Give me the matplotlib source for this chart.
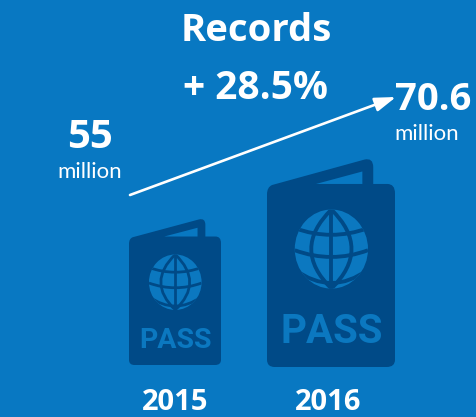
import matplotlib
matplotlib.use('Agg')
import matplotlib.pyplot as plt
from matplotlib.patches import PathPatch, Ellipse
from matplotlib.path import Path

years = ['2015', '2016']
values = [55, 70.6]
unit = 'million'
title = 'Records'
growth = '+ 28.5%'
stamp = 'PASS'

BG = '#0878c2'
DARK = '#004a87'
LIGHT = '#0b78c0'
FONT = ['Open Sans', 'DejaVu Sans']
THIN = ['Lato', 'DejaVu Sans']

fig = plt.figure(figsize=(4.77, 4.17), dpi=100, facecolor=BG)
ax = fig.add_axes([0, 0, 1, 1])
ax.set_xlim(0, 477)
ax.set_ylim(417, 0)
ax.axis('off')


def passport(x0, y0, w, h, fs):
    # icon outline, u/v are fractions of the box, v going down
    def p(u, v):
        return (x0 + u * w, y0 + v * h)

    M, L, C, Z = Path.MOVETO, Path.LINETO, Path.CURVE3, Path.CLOSEPOLY
    cover = [
        (p(0, .17), M), (p(0, .135), C), (p(.04, .125), C),
        (p(.76, .003), L), (p(.83, -.008), C), (p(.83, .04), C),
        (p(.83, .12), L), (p(.94, .12), L), (p(1, .12), C), (p(1, .165), C),
        (p(1, .965), L), (p(1, 1), C), (p(.935, 1), C),
        (p(.06, 1), L), (p(0, 1), C), (p(0, .965), C),
        (p(0, .17), Z),
    ]
    ax.add_patch(PathPatch(Path([c[0] for c in cover], [c[1] for c in cover]),
                           fc=DARK, ec='none', zorder=2))
    # slit above the cover
    slit = [p(.383, .12), p(.745, .06), p(.745, .12), p(.383, .12)]
    ax.add_patch(PathPatch(Path(slit, [M, L, L, Z]), fc=BG, ec='none', zorder=3))

    # globe
    cu, cv, ru, rv = .503, .433, .286, .19
    globe = Ellipse(p(cu, cv), 2 * ru * w, 2 * rv * h, fc=LIGHT, ec='none', zorder=3)
    ax.add_patch(globe)
    lw = w * 0.03 * 0.72
    lines = []
    lines.append(Path([p(cu, cv - rv), p(cu, cv + rv)]))
    for k in [-1.1, 1.1]:
        lines.append(Path([p(cu, cv - rv), p(cu + k * ru, cv), p(cu, cv + rv)], [M, C, C]))
    for dv, sag in [(-.53, .17), (.03, .17), (.52, .34)]:
        y = cv + dv * rv
        lines.append(Path([p(cu - ru, y), p(cu, y + sag * rv * 2), p(cu + ru, y)], [M, C, C]))
    for path in lines:
        pt = PathPatch(path, fc='none', ec=DARK, lw=lw, zorder=4)
        ax.add_patch(pt)
        pt.set_clip_path(globe)

    ax.text(x0 + .503 * w, y0 + .83 * h, stamp, color=LIGHT, fontsize=fs, fontweight='bold',
            family=['Roboto', 'DejaVu Sans'], ha='center', va='center', zorder=3)


passport(129, 219, 92, 146, 20.5)
passport(267, 159, 128, 208, 29)

ax.annotate('', xy=(396, 97), xytext=(130, 195),
            arrowprops=dict(arrowstyle='-|>,head_length=0.9,head_width=0.3', color='white',
                            lw=1.9, shrinkA=0, shrinkB=0, mutation_scale=14), zorder=5)

ax.text(256, 31, title, color='white', fontsize=27.5, fontweight='bold', family=FONT, ha='center', va='center')
ax.text(256, 88, growth, color='white', fontsize=28, fontweight='bold', family=FONT, ha='center', va='center')

ax.text(90, 138, f'{values[0]:g}', color='white', fontsize=29, fontweight='bold', family=FONT, ha='center', va='center')
ax.text(90, 172, unit, color='white', fontsize=16, family=THIN, ha='center', va='center')
ax.text(433, 100, f'{values[1]:g}', color='white', fontsize=27.5, fontweight='bold', family=FONT, ha='center', va='center')
ax.text(427, 134, unit, color='white', fontsize=16, family=THIN, ha='center', va='center')

ax.text(175, 402, years[0], color='white', fontsize=21, fontweight='bold', family=FONT, ha='center', va='center')
ax.text(328, 402, years[1], color='white', fontsize=21, fontweight='bold', family=FONT, ha='center', va='center')

fig.savefig('out.png', dpi=100, facecolor=BG)
